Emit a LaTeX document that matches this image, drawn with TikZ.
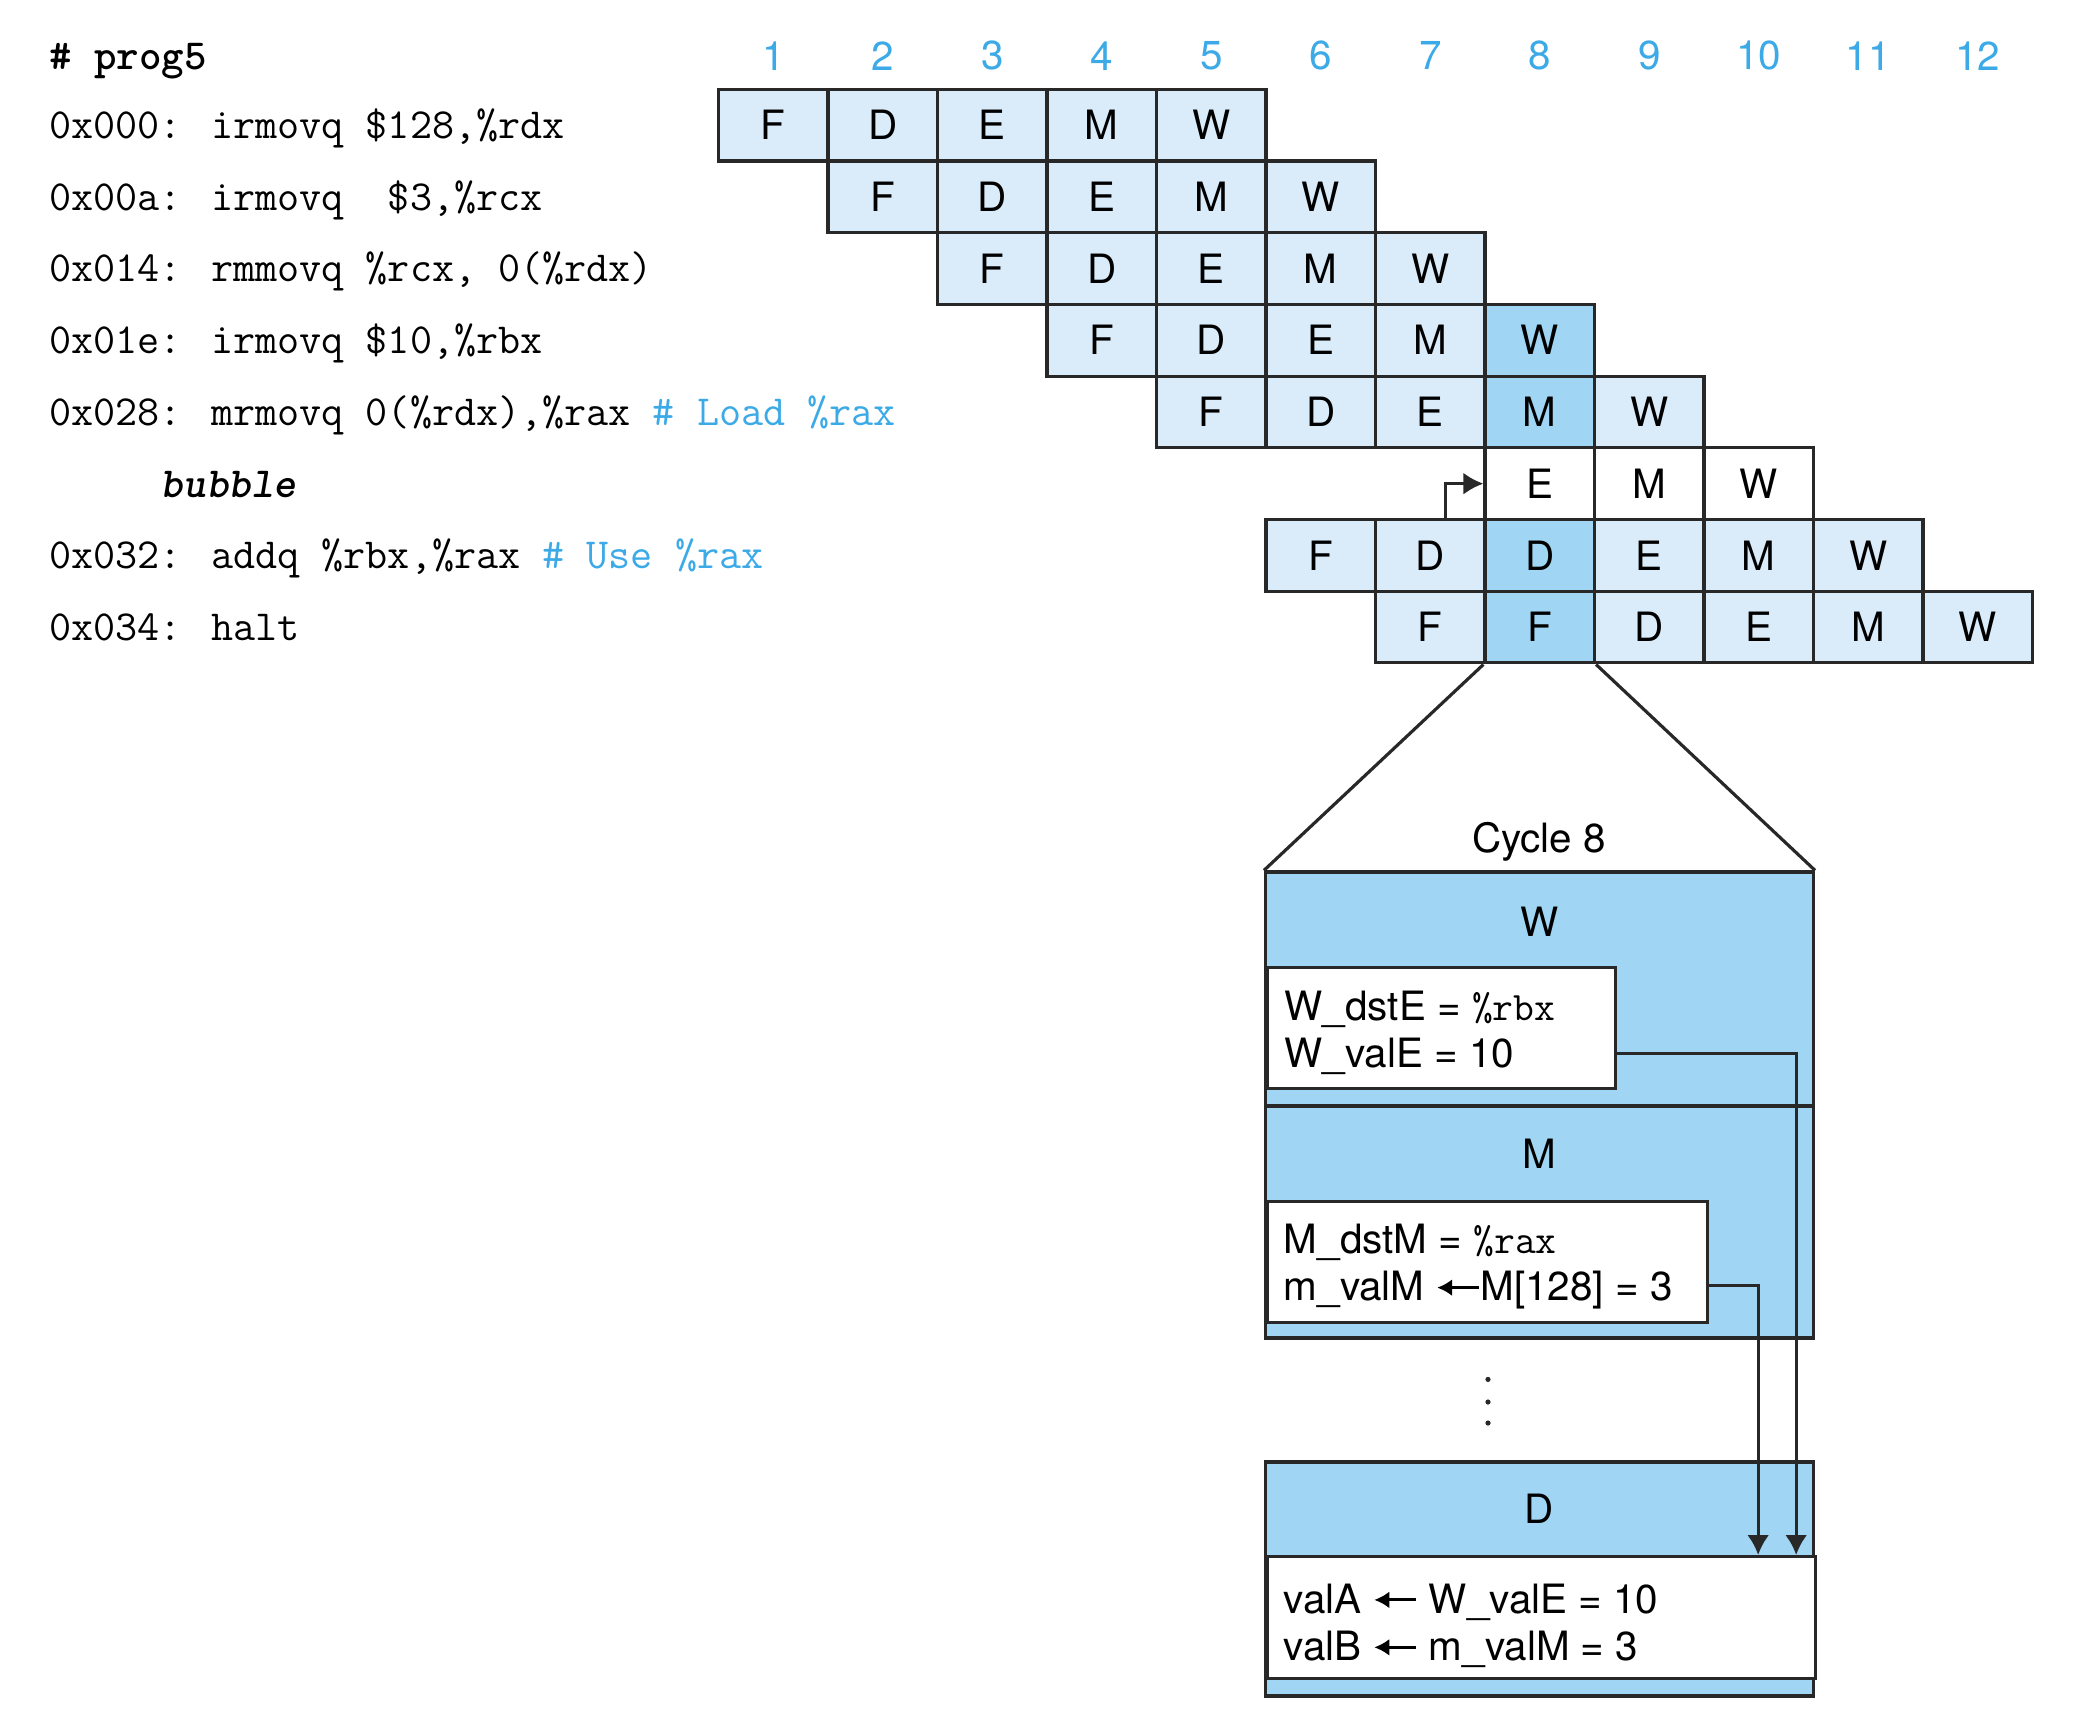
\documentclass[tikz,border=0pt]{standalone}
\usepackage{fontspec}
\newfontfamily\stagefont{TeX Gyre Heros}
\usetikzlibrary{arrows.meta,positioning}
\definecolor{stagelight}{RGB}{218,236,250}
\definecolor{stagedark}{RGB}{160,213,243}
\definecolor{cycleblue}{RGB}{60,170,230}
\definecolor{gridline}{RGB}{40,40,40}
\newcommand{\stagecell}[3]{%
  \ifnum#1=6 \def\cellfill{white}\else\ifnum#2=8 \def\cellfill{stagedark}\else\def\cellfill{stagelight}\fi\fi%
  \node[cell,fill=\cellfill] (c-#1-#2) at ({\gridx+(#2-0.5)*\cellw},{\gridy-(#1-0.5)*\cellh}) {#3};%
}
\newcommand{\codeline}[3]{%
  \node[code] (#2) at (0.478,{\gridy-(#1-0.5)*\cellh-0.134}) {#3};%
}
\newcommand{\getsarrow}{%
  \tikz[baseline=-0.62ex]\draw[line width=0.8pt,{Latex[length=1.5mm,width=1.7mm]}-] (0,0) -- (0.42,0);%
}

\begin{document}
\begin{tikzpicture}[line width=0.9pt,
    sans/.style={font=\stagefont\fontsize{11.5}{13.5}\selectfont},
    cell/.style={sans,draw=gridline,minimum width=\cellw cm,minimum height=\cellh cm,inner sep=0pt},
    cyclenum/.style={sans,text=cycleblue,inner sep=0pt},
    code/.style={anchor=base west,inner sep=0pt,font=\ttfamily\fontsize{12.2}{14}\selectfont},
    stagebox/.style={draw=gridline,fill=stagedark,minimum width=5.48cm,inner sep=0pt},
    stagetitle/.style={sans,inner sep=0pt},
    valbox/.style={draw=gridline,fill=white,anchor=north west,inner sep=0pt,minimum height=1.21cm},
    valtext/.style={sans,align=left,anchor=west,inner xsep=0.177cm,inner ysep=0pt},
    flow/.style={draw=gridline,-{Latex[length=2mm,width=2.2mm]}}]
  \useasboundingbox (0,0) rectangle (20.74,-17.26);
  \pgfmathsetmacro{\cellw}{1.095}
  \pgfmathsetmacro{\cellh}{0.717}
  \pgfmathsetmacro{\gridx}{7.185}
  \pgfmathsetmacro{\gridy}{-0.893}
  %
  % program listing
  \node[code] (title) at (0.478,-0.692) {\bfseries\# prog5};
  \codeline{1}{l1}{0x000: irmovq \$128,\%rdx}
  \codeline{2}{l2}{0x00a: irmovq\ \ \$3,\%rcx}
  \codeline{3}{l3}{0x014: rmmovq \%rcx, 0(\%rdx)}
  \codeline{4}{l4}{0x01e: irmovq \$10,\%rbx}
  \codeline{5}{l5}{0x028: mrmovq 0(\%rdx),\%rax \textcolor{cycleblue}{\# Load \%rax}}
  \node[code] (bubble) at (1.594,{\gridy-5.5*\cellh-0.134}) {\bfseries\slshape bubble};
  \codeline{7}{l7}{0x032: addq \%rbx,\%rax \textcolor{cycleblue}{\# Use \%rax}}
  \codeline{8}{l8}{0x034: halt}
  %
  % cycle numbers and pipeline cells
  \foreach \c in {1,...,12}
    \node[cyclenum] (n-\c) at ({\gridx+(\c-0.5)*\cellw},-0.558) {\c};
  \foreach \r/\first/\stages in {1/1/{F,D,E,M,W},2/2/{F,D,E,M,W},3/3/{F,D,E,M,W},
      4/4/{F,D,E,M,W},5/5/{F,D,E,M,W},6/8/{E,M,W},7/6/{F,D,D,E,M,W},8/7/{F,F,D,E,M,W}}
    \foreach \s [count=\i from 0] in \stages {
      \pgfmathtruncatemacro{\c}{\first+\i}
      \stagecell{\r}{\c}{\s}
    };
  \draw[flow] ([xshift=0.155cm]c-7-7.north) |- (c-6-8.west);  % stall
  %
  % cycle 8 close-up
  \node[stagebox,minimum height=2.34cm] (wstage) at (15.395,-9.89) {};
  \node[stagebox,minimum height=2.32cm] (mstage) at (15.395,-12.22) {};
  \node[stagebox,minimum height=2.34cm] (dstage) at (15.395,-15.79) {};
  \node[stagetitle] (cyc) at (15.39,-8.42) {Cycle 8};
  \node[stagetitle] (wtitle) at (15.395,-9.217) {W};
  \node[stagetitle] (mtitle) at (15.395,-11.539) {M};
  \node[stagetitle] (dtitle) at (15.395,-15.09) {D};
  \draw[gridline] (c-8-8.south west) -- (wstage.north west);
  \draw[gridline] (c-8-8.south east) -- (wstage.north east);
  \node[valbox,minimum width=3.481cm] (wval) at (12.655,-9.66) {};
  \node[valtext] (wtext) at ([yshift=-0.05cm]wval.west)
    {W\_dstE = {\ttfamily\%rbx}\\W\_valE = 10};
  \node[valbox,minimum width=4.405cm] (mval) at (12.655,-11.995) {};
  \node[valtext] (mtext) at ([yshift=-0.05cm]mval.west)
    {M\_dstM = {\ttfamily\%rax}\\m\_valM \getsarrow M[128] = 3};
  \node[valbox,minimum width=5.48cm,minimum height=1.22cm] (dval) at (12.655,-15.55) {};
  \node[valtext] (dtext) at ([yshift=-0.08cm]dval.west)
    {valA \getsarrow\ W\_valE = 10\\valB \getsarrow\ m\_valM = 3};
  \foreach \y in {13.794,14.02,14.23}
    \fill[gridline] (14.88,-\y) circle (0.026);
  \draw[flow] ([yshift=-0.255cm]wval.east) -| ([xshift=-0.205cm]dval.north east);  % W_valE
  \draw[flow] ([yshift=-0.24cm]mval.east) -| ([xshift=-0.585cm]dval.north east);   % m_valM
\end{tikzpicture}
\end{document}
